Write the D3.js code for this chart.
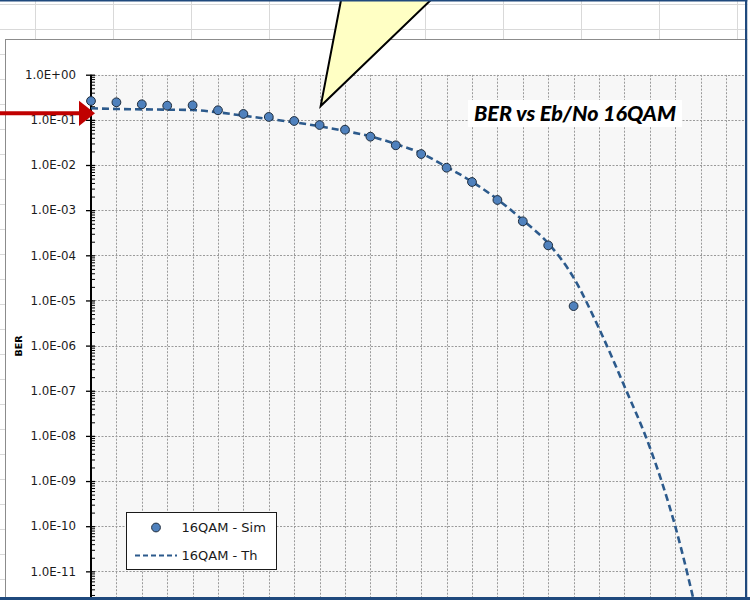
<!DOCTYPE html>
<html>
<head>
<meta charset="utf-8">
<title>BER vs Eb/No 16QAM</title>
<script src="https://d3js.org/d3.v7.min.js"></script>
<style>
  body { margin: 0; background: #fff; }
  svg { display: block; }
</style>
</head>
<body>
<script>
// Eb/No in dB for the simulated points
var simX = [0, 1, 2, 3, 4, 5, 6, 7, 8, 9, 10, 11, 12, 13, 14, 15, 16, 17, 18, 19];
// simulated BER
var simBER = [0.262, 0.245, 0.221, 0.206, 0.21, 0.163, 0.135, 0.116, 0.0944, 0.0769,
              0.0605, 0.0424, 0.0273, 0.0175, 0.0087, 0.0042, 0.00168, 0.000566, 0.000166, 0.0000075];
// theoretical curve
var thX = [0, 1, 2, 3, 4, 5, 6, 7, 8, 9, 10, 11, 12, 13, 14, 15, 16, 17, 18, 19, 20, 21, 22, 23, 24];
var thBER = [0.18, 0.174, 0.171, 0.168, 0.165, 0.147, 0.1236, 0.1045, 0.0883, 0.072,
             0.0566, 0.0432, 0.0292, 0.0182, 0.0091, 0.00427, 0.00174, 0.0006, 0.000185, 0.000032,
             0.0000024, 0.000000126, 0.0000000056, 0.0000000001, 0.0000000000005];
// y axis decades and the labels that are visible
var decades = [1, 1e-1, 1e-2, 1e-3, 1e-4, 1e-5, 1e-6, 1e-7, 1e-8, 1e-9, 1e-10, 1e-11, 1e-12];
var decadeLabels = ["1.0E+00", "1.0E-01", "1.0E-02", "1.0E-03", "1.0E-04", "1.0E-05", "1.0E-06",
                    "1.0E-07", "1.0E-08", "1.0E-09", "1.0E-10", "1.0E-11"];
var seriesNames = ["16QAM - Sim", "16QAM - Th"];
var chartTitle = "BER vs Eb/No 16QAM";
var yTitle = "BER";

var W = 750, H = 600;
var plotLeft = 91, plotTop = 74.7, decadePx = 45.15, dbPx = 25.4;
var plotBottom = plotTop + 12 * decadePx;
var plotRight = 745;

var svg = d3.select("body").append("svg").attr("width", W).attr("height", H);

// spreadsheet background
var cells = svg.append("g").attr("stroke", "#d9d9d9").attr("stroke-width", 1);
d3.range(35.5, W, 78).forEach(function (v) {
    cells.append("line").attr("x1", v).attr("x2", v).attr("y1", 0).attr("y2", H);
});
d3.range(4.5, H, 25).forEach(function (v) {
    cells.append("line").attr("x1", 0).attr("x2", W).attr("y1", v).attr("y2", v);
});

// chart area
svg.append("rect").attr("x", 5.5).attr("y", 39.5).attr("width", 760).attr("height", 600)
    .attr("fill", "#fff").attr("stroke", "#8c8c8c");

svg.append("defs").append("clipPath").attr("id", "plotClip")
    .append("rect").attr("x", plotLeft).attr("y", plotTop)
    .attr("width", plotRight - plotLeft).attr("height", plotBottom - plotTop);

var x = d3.scaleLinear().domain([0, 30]).range([plotLeft, plotLeft + 30 * dbPx]);
var y = d3.scaleLog().domain([1e-12, 1]).range([plotBottom, plotTop]);

// plot area
svg.append("rect").attr("x", plotLeft).attr("y", plotTop)
    .attr("width", plotRight - plotLeft).attr("height", plotBottom - plotTop)
    .attr("fill", "#f7f7f7");

var grid = svg.append("g").attr("clip-path", "url(#plotClip)")
    .attr("stroke", "#9a9a9a").attr("stroke-width", 1).attr("stroke-dasharray", "2,1.5");
grid.selectAll(".hg").data(decades).enter().append("line")
    .attr("x1", plotLeft).attr("x2", plotRight)
    .attr("y1", function (d) { return Math.round(y(d)) + 0.5; })
    .attr("y2", function (d) { return Math.round(y(d)) + 0.5; });
grid.selectAll(".vg").data(d3.range(1, 31)).enter().append("line")
    .attr("y1", plotTop).attr("y2", plotBottom)
    .attr("x1", function (d) { return Math.round(x(d)) + 0.5; })
    .attr("x2", function (d) { return Math.round(x(d)) + 0.5; });

// y axis: major ticks with labels
var yAxis = svg.append("g").attr("transform", "translate(" + plotLeft + ",0)")
    .call(d3.axisLeft(y).tickValues(decades)
        .tickFormat(function (d, i) { return decadeLabels[i] || ""; })
        .tickSize(5).tickPadding(10));
yAxis.select(".domain").remove();
yAxis.selectAll(".tick line").attr("x2", 4).attr("x1", -5).attr("stroke", "#000").attr("stroke-width", 1.3);
yAxis.selectAll(".tick text").attr("font-family", "DejaVu Sans, sans-serif")
    .attr("font-size", 11.8).attr("fill", "#1a1a1a");

// minor ticks
var minors = [];
decades.slice(1).forEach(function (d) {
    d3.range(2, 10).forEach(function (k) { minors.push(d * k); });
});
var yMinor = svg.append("g").attr("transform", "translate(" + plotLeft + ",0)")
    .call(d3.axisRight(y).tickValues(minors).tickFormat("").tickSize(4));
yMinor.select(".domain").remove();
yMinor.selectAll(".tick line").attr("stroke", "#000");

svg.append("line").attr("x1", plotLeft).attr("x2", plotLeft).attr("y1", plotTop).attr("y2", plotBottom)
    .attr("stroke", "#000").attr("stroke-width", 2);

// series
var plot = svg.append("g").attr("clip-path", "url(#plotClip)");
var line = d3.line().curve(d3.curveMonotoneX)
    .x(function (d) { return x(d[0]); }).y(function (d) { return y(d[1]); });
plot.append("path").datum(thX.map(function (v, i) { return [v, thBER[i]]; }))
    .attr("d", line).attr("fill", "none").attr("stroke", "#2c5a8c")
    .attr("stroke-width", 2.6).attr("stroke-dasharray", "7,4");

svg.append("g").selectAll("circle").data(simX).enter().append("circle")
    .attr("cx", function (d) { return x(d); })
    .attr("cy", function (d, i) { return y(simBER[i]); })
    .attr("r", 4.4).attr("fill", "#4f81bd").attr("stroke", "#1f2d3d").attr("stroke-width", 1);

// y axis title
svg.append("text").attr("transform", "translate(22,346) rotate(-90)")
    .attr("text-anchor", "middle").attr("font-family", "DejaVu Sans, sans-serif")
    .attr("font-weight", "bold").attr("font-size", 9.5).text(yTitle);

// chart title
svg.append("rect").attr("x", 468).attr("y", 100).attr("width", 214).attr("height", 27).attr("fill", "#fff");
svg.append("text").attr("x", 575).attr("y", 120.5).attr("text-anchor", "middle")
    .attr("font-family", "Lato, sans-serif").attr("font-weight", "900").attr("font-style", "italic")
    .attr("font-size", 21.5).attr("fill", "#000").text(chartTitle);

// legend
var lg = svg.append("g");
lg.append("rect").attr("x", 126.5).attr("y", 512.5).attr("width", 150).attr("height", 57)
    .attr("fill", "#fff").attr("stroke", "#1a1a1a");
lg.append("circle").attr("cx", 156).attr("cy", 527.5).attr("r", 4.4)
    .attr("fill", "#4f81bd").attr("stroke", "#1f2d3d");
lg.append("line").attr("x1", 135).attr("x2", 177).attr("y1", 555.5).attr("y2", 555.5)
    .attr("stroke", "#2c5a8c").attr("stroke-width", 2.2).attr("stroke-dasharray", "5,3");
lg.selectAll("text").data(seriesNames).enter().append("text")
    .attr("x", 181.5).attr("y", function (d, i) { return 532 + i * 28; })
    .attr("font-family", "DejaVu Sans, sans-serif").attr("font-size", 13).attr("fill", "#1a1a1a")
    .text(function (d) { return d; });

// callout and arrow
svg.append("polygon").attr("points", "342,-5 436,-5 320.7,106")
    .attr("fill", "#ffffc4").attr("stroke", "#000").attr("stroke-width", 2).attr("stroke-linejoin", "miter");
svg.append("line").attr("x1", 0).attr("x2", 80).attr("y1", 113.3).attr("y2", 113.3)
    .attr("stroke", "#c00000").attr("stroke-width", 4);
svg.append("polygon").attr("points", "79,100.7 79,126 95,113.3").attr("fill", "#c00000");

// window frame
svg.append("rect").attr("x", 0).attr("y", 0).attr("width", W).attr("height", 1.5).attr("fill", "#1f497d");
svg.append("rect").attr("x", 745).attr("y", 0).attr("width", 2.5).attr("height", H).attr("fill", "#1f497d");
svg.append("rect").attr("x", 747.5).attr("y", 0).attr("width", 3).attr("height", H).attr("fill", "#fff");
svg.append("rect").attr("x", 0).attr("y", 597).attr("width", W).attr("height", 3).attr("fill", "#1f497d");
</script>
</body>
</html>
